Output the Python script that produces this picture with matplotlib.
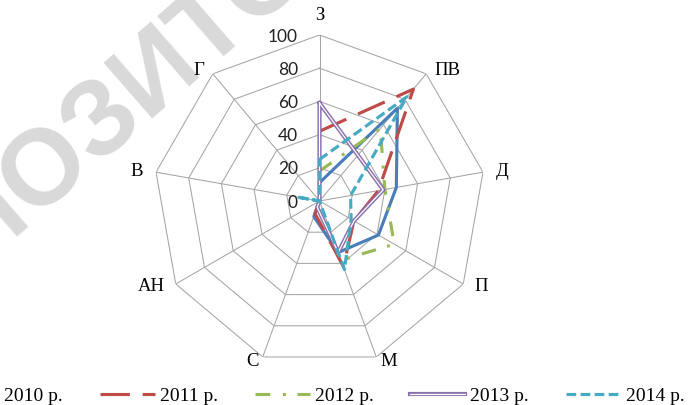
import numpy as np
import matplotlib
matplotlib.use("Agg")
import matplotlib.pyplot as plt
from matplotlib.transforms import offset_copy

categories = ['З', 'ПВ', 'Д', 'П', 'М', 'С', 'АН', 'В', 'Г']
series_names = ['2010 р.', '2011 р.', '2012 р.', '2013 р.', '2014 р.']
v2010 = [11, 73, 47, 41, 33, 10, 0, 0, 0]
v2011 = [42, 88, 36, 24, 42, 8, 0, 0, 0]
v2012 = [18, 57, 40, 52, 38, 4, 0, 0, 0]
v2013 = [59, 36, 39, 24, 33, 4, 0, 0, 0]
v2014 = [25, 82, 19, 22, 44, 0, 0, 14, 0]
r_ticks = [0, 20, 40, 60, 80, 100]
tick_labels = ['0', '20', '40', '60', '80', '100']

W, H = 691, 405
fig = plt.figure(figsize=(W / 100, H / 100), dpi=100)

# watermark
fig.text(140 / W, 1 - 86 / H, 'РЕПОЗИТОРІЙ', fontsize=77, fontweight='bold',
         family='Liberation Sans', color='#d9d9d9', rotation=41,
         rotation_mode='anchor', ha='center', va='center', zorder=-5)

cx, cy, R = 319.5, 201, 166
ax = fig.add_axes([(cx - R) / W, (H - cy - R) / H, 2 * R / W, 2 * R / H],
                  projection='polar')
ax.set_theta_zero_location('N')
ax.set_theta_direction(-1)
ax.set_ylim(0, 100)
ax.set_axis_off()

n = len(categories)
ang = np.linspace(0, 2 * np.pi, n, endpoint=False)
angc = np.append(ang, ang[0])

grid_c = '#a5a5a5'
for r in r_ticks[1:]:
    ax.plot(angc, [r] * (n + 1), color=grid_c, lw=0.75, zorder=1)
for a in ang:
    ax.plot([a, a], [0, 100], color=grid_c, lw=0.75, zorder=1)

# radial tick labels
tr = offset_copy(ax.transData, fig=fig, x=-21.5 * 0.72, y=-1.5 * 0.72, units='points')
for r, lab in zip(r_ticks, tick_labels):
    ax.text(0, r, lab, transform=tr, ha='right', va='center',
            fontsize=12.5, family='Lato', color='#222222', zorder=5)

# category labels
for a, lab in zip(ang, categories):
    s, c = np.sin(a), np.cos(a)
    if abs(s) < 0.1:
        ha, dx, dy = 'center', 0, 20 * c
    else:
        ha = 'left' if s > 0 else 'right'
        dx, dy = 13 * s, 5 * c
    t = offset_copy(ax.transData, fig=fig, x=dx * 0.72, y=dy * 0.72, units='points')
    ax.text(a, 100, lab, transform=t, ha=ha, va='center', fontsize=13.5,
            family='Liberation Serif', color='black')

def closed(v):
    return np.append(v, v[0])

lw = 2.25
l10, = ax.plot(angc, closed(v2010), color='#4a7ebb', lw=lw, zorder=3)
l11, = ax.plot(angc, closed(v2011), color='#be4b48', lw=lw, zorder=3,
               linestyle=(0, (9.4, 4.1)))
l12, = ax.plot(angc, closed(v2012), color='#98b954', lw=lw, zorder=3,
               linestyle=(0, (4.7, 4.1, 0.94, 3.7)))
l13a, = ax.plot(angc, closed(v2013), color='#8a70ad', lw=3.0, zorder=3)
l13b, = ax.plot(angc, closed(v2013), color='white', lw=0.9, zorder=3)
l14, = ax.plot(angc, closed(v2014), color='#46aac5', lw=lw, zorder=3,
               linestyle=(0, (3.1, 1.4)))

fs = 14
px = fs * 100 / 72
fig.legend([l10, l11, l12, (l13a, l13b), l14], series_names, ncol=5,
           loc='center left', bbox_to_anchor=(-56 / W, 1 - 396 / H),
           frameon=False, borderpad=0, borderaxespad=0,
           handlelength=55 / px, handletextpad=5 / px, columnspacing=37 / px,
           prop={'family': 'Liberation Serif', 'size': fs})

fig.savefig('out.png', dpi=100)
